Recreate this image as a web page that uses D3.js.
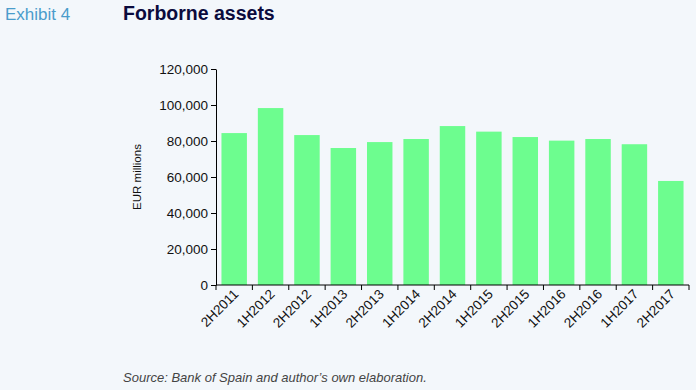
<!DOCTYPE html>
<html><head><meta charset="utf-8">
<script src="https://cdn.jsdelivr.net/npm/d3@7"></script>
<style>
body{margin:0;background:#f3f7fb;}
svg{display:block;font-family:"Liberation Sans",Arial,sans-serif;}
</style></head>
<body>
<script>
const categories = ["2H2011","1H2012","2H2012","1H2013","2H2013","1H2014","2H2014","1H2015","2H2015","1H2016","2H2016","1H2017","2H2017"];
const values = [84400,98300,83300,76100,79400,81100,88300,85200,82200,80200,81100,78200,57800];
const yTicks = [0,20000,40000,60000,80000,100000,120000];

const W=696,H=390;
const svg=d3.select("body").append("svg").attr("width",W).attr("height",H);
svg.append("rect").attr("width",W).attr("height",H).attr("fill","#f3f7fb");

const m={left:216,right:689,top:69,bottom:285};
const x=d3.scaleBand().domain(categories).range([m.left,m.right]).paddingInner(0.3).paddingOuter(0.15);
const y=d3.scaleLinear().domain([0,120000]).range([m.bottom,m.top]);

svg.append("text").attr("x",5).attr("y",20).attr("fill","#4a9ccb").attr("font-size",17).text("Exhibit 4");
svg.append("text").attr("x",123).attr("y",20).attr("fill","#0b0b3d").attr("font-size",19.5).attr("font-weight","bold").text("Forborne assets");

svg.selectAll("rect.bar").data(values).enter().append("rect").attr("class","bar")
  .attr("x",(d,i)=>x(categories[i])).attr("width",x.bandwidth())
  .attr("y",d=>y(d)).attr("height",d=>y(0)-y(d)).attr("fill","#6dfd8f");

const ya=svg.append("g").attr("transform",`translate(${m.left},0)`)
  .call(d3.axisLeft(y).tickValues(yTicks).tickSize(5).tickSizeOuter(0).tickFormat(d3.format(",")));
ya.select(".domain").attr("stroke","#000");
ya.selectAll("text").attr("font-size",13.5).attr("fill","#111").attr("font-family","Liberation Sans, Arial, sans-serif");

const xs=d3.scalePoint().domain(d3.range(categories.length+1)).range([m.left,m.right]);
const xa=svg.append("g").attr("transform",`translate(0,${m.bottom})`);
xa.append("line").attr("x1",m.left).attr("x2",m.right).attr("stroke","#000");
xa.selectAll("line.t").data(d3.range(categories.length+1)).enter().append("line")
  .attr("x1",d=>xs(d)).attr("x2",d=>xs(d)).attr("y1",0).attr("y2",5).attr("stroke","#000");
xa.selectAll("text").data(categories).enter().append("text")
  .attr("transform",d=>`translate(${x(d)+x.bandwidth()/2+5},${10}) rotate(-45)`)
  .attr("text-anchor","end").attr("font-size",13.5).attr("fill","#111").text(d=>d);

svg.append("text").attr("transform",`translate(141,${(m.top+m.bottom)/2}) rotate(-90)`)
  .attr("text-anchor","middle").attr("font-size",11.5).attr("fill","#111").text("EUR  millions");

svg.append("text").attr("x",123).attr("y",382).attr("font-size",13).attr("font-style","italic").attr("fill","#444")
  .text("Source: Bank of Spain and author’s own elaboration.");
</script>
</body></html>
